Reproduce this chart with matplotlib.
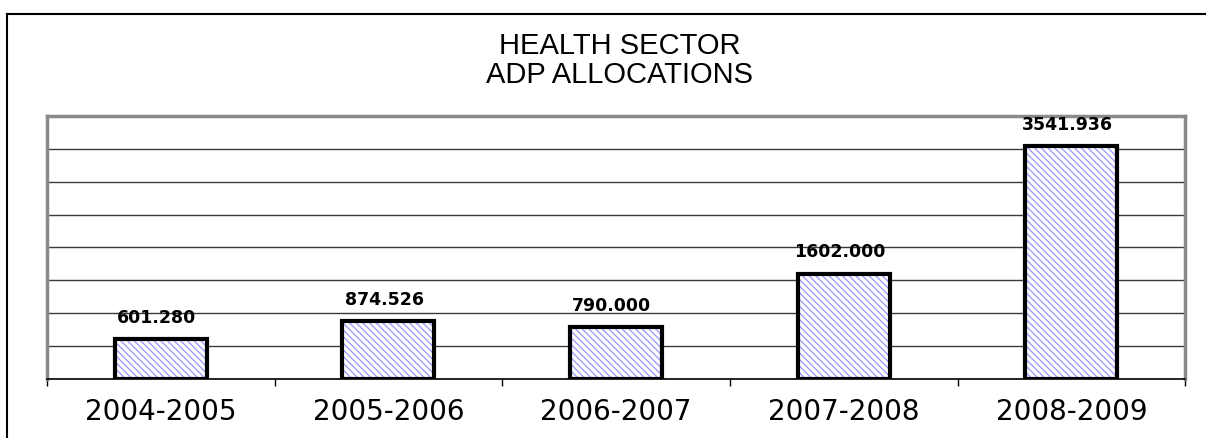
import matplotlib
matplotlib.use("Agg")

import matplotlib.pyplot as plt
from matplotlib.lines import Line2D

# ---------------------------------------------------------------------------
# Data
# ---------------------------------------------------------------------------
YEARS = ["2004-2005", "2005-2006", "2006-2007", "2007-2008", "2008-2009"]
ALLOCATIONS = [601.280, 874.526, 790.000, 1602.000, 3541.936]
Y_MAX = 4000
Y_STEP = 500

# ---------------------------------------------------------------------------
# Colours
# ---------------------------------------------------------------------------
COLOR_HATCH = "#a0a0ff"
COLOR_EDGE = "black"
COLOR_FRAME = "#8a8a8a"
COLOR_GRID = "#3a3a3a"

plt.rcParams["font.family"] = ["Liberation Sans", "DejaVu Sans"]
plt.rcParams["hatch.linewidth"] = 1.0

fig = plt.figure(figsize=(12.06, 4.38), dpi=100)
ax = fig.add_axes([0.039, 0.1347, 0.9437, 0.6005])

x = list(range(len(YEARS)))

# hatched fill, then black outline on top
ax.bar(x, ALLOCATIONS, width=0.404, color="white", edgecolor=COLOR_HATCH,
       hatch="\\" * 5, linewidth=0, zorder=3)
ax.bar(x, ALLOCATIONS, width=0.404, fill=False, edgecolor=COLOR_EDGE,
       linewidth=3, zorder=4)

for xi, val in zip(x, ALLOCATIONS):
    ax.annotate(f"{val:.3f}", (xi, val), xytext=(-3, 9), textcoords="offset points",
                ha="center", va="bottom", fontsize=12.5, fontweight="bold",
                family="DejaVu Sans")

ax.set_xlim(-0.5, len(YEARS) - 0.5)
ax.set_ylim(0, Y_MAX)
ax.set_yticks(range(0, Y_MAX + 1, Y_STEP))
ax.set_yticklabels([])
ax.tick_params(axis="y", length=0)
ax.yaxis.grid(True, color=COLOR_GRID, linewidth=1.0)
ax.set_axisbelow(True)

# labels at centres, tick marks at category boundaries
ax.set_xticks(x)
ax.set_xticklabels(YEARS, fontsize=20, family="DejaVu Sans")
ax.tick_params(axis="x", which="major", length=0, pad=14)
ax.set_xticks([i - 0.5 for i in range(len(YEARS) + 1)], minor=True)
ax.tick_params(axis="x", which="minor", length=5, width=1, color="black")

for side in ["left", "top", "right"]:
    ax.spines[side].set_color(COLOR_FRAME)
    ax.spines[side].set_linewidth(2.5)
ax.spines["bottom"].set_color("black")
ax.spines["bottom"].set_linewidth(1.2)

fig.text(0.514, 0.862, "HEALTH SECTOR\nADP ALLOCATIONS", ha="center", va="center",
         fontsize=21, linespacing=1.05)

# outer chart border (left and top only, the rest is cropped)
fig.add_artist(Line2D([7 / 1206, 7 / 1206], [0, 1 - 14 / 438], transform=fig.transFigure,
                      color="black", linewidth=1.5))
fig.add_artist(Line2D([7 / 1206, 1], [1 - 14 / 438, 1 - 14 / 438], transform=fig.transFigure,
                      color="black", linewidth=1.5))

fig.savefig("out.png", dpi=100)
